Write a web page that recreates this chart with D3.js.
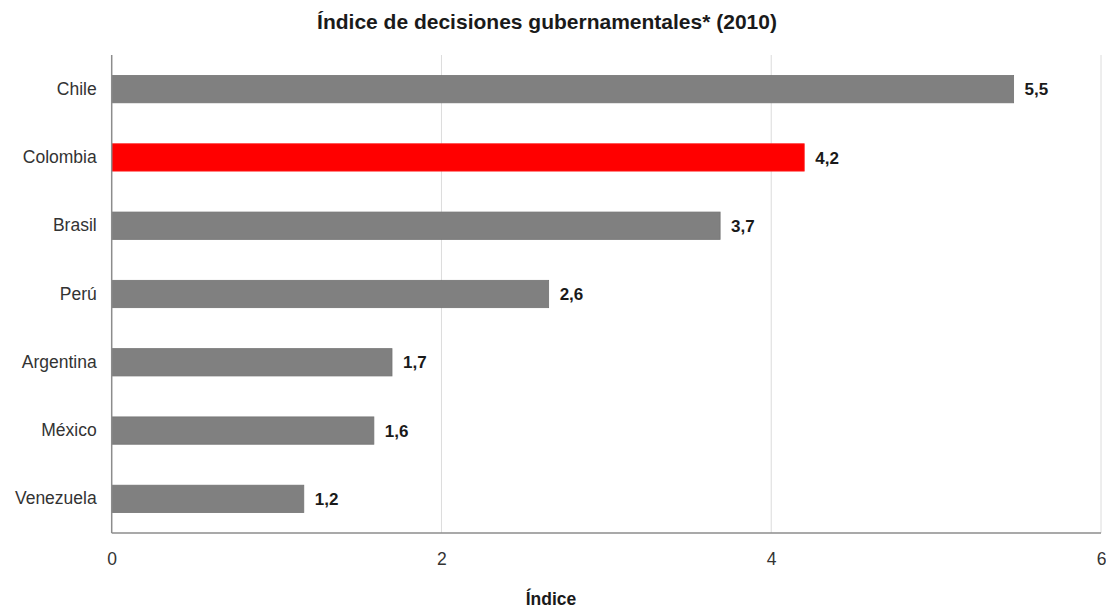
<!DOCTYPE html>
<html><head><meta charset="utf-8">
<script src="https://cdn.jsdelivr.net/npm/d3@7"></script>
<style>
body{margin:0;background:#fff;}
text{font-family:"Liberation Sans",Arial,sans-serif;}
</style></head>
<body><svg id="c" width="1106" height="610"></svg>
<script>
const categories = ["Chile","Colombia","Brasil","Perú","Argentina","México","Venezuela"];
const values = [5.47, 4.2, 3.69, 2.65, 1.7, 1.59, 1.165];
const highlight = ["Colombia"];
const xTicks = [0,2,4,6];
const title = "Índice de decisiones gubernamentales* (2010)";
const xTitle = "Índice";

const svg = d3.select("#c");
const mLeft = 111.7, mRight = 1101, mTop = 55, mBottom = 533;
const x = d3.scaleLinear().domain([0,6]).range([mLeft,mRight]);
const y = d3.scaleBand().domain(categories).range([mTop,mBottom]).paddingInner(0.6).paddingOuter(0.3);
const FF = "'Liberation Sans',Arial,sans-serif";

// gridlines
svg.append("g").selectAll("line").data(xTicks.filter(t=>t>0)).join("line")
  .attr("x1",d=>x(d)).attr("x2",d=>x(d)).attr("y1",mTop).attr("y2",mBottom)
  .attr("stroke","#dcdcdc").attr("stroke-width",1);

// bars
svg.append("g").selectAll("rect").data(categories).join("rect")
  .attr("x",x(0)).attr("y",d=>y(d))
  .attr("width",(d,i)=>x(values[i])-x(0)).attr("height",y.bandwidth())
  .attr("fill",d=>highlight.includes(d)?"#ff0000":"#808080")
  .attr("stroke",d=>highlight.includes(d)?"#ff1a1a":"#747474").attr("stroke-width",0.8);

// value labels
svg.append("g").selectAll("text").data(categories).join("text")
  .attr("x",(d,i)=>x(values[i])+11).attr("y",d=>y(d)+y.bandwidth()/2)
  .attr("dy","0.36em").attr("font-size",17).attr("font-weight","bold").attr("fill","#1a1a1a")
  .text((d,i)=>values[i].toFixed(1).replace(".",","));

// axes
const yAxis = d3.axisLeft(y).tickSize(0).tickPadding(15);
const gy = svg.append("g").attr("transform",`translate(${mLeft},0)`).call(yAxis);
gy.select(".domain").remove();
gy.selectAll("text").attr("font-size",17.5).attr("fill","#333").style("font-family",FF);

const xAxis = d3.axisBottom(x).tickValues(xTicks).tickSize(0).tickPadding(20).tickFormat(d3.format("d"));
const gx = svg.append("g").attr("transform",`translate(0,${mBottom})`).call(xAxis);
gx.select(".domain").remove();
gx.selectAll("text").attr("font-size",17.5).attr("fill","#333").style("font-family",FF);

svg.append("line").attr("x1",mLeft).attr("x2",mLeft).attr("y1",mTop).attr("y2",mBottom)
  .attr("stroke","#8c8c8c").attr("stroke-width",1.5);
svg.append("line").attr("x1",mLeft).attr("x2",mRight).attr("y1",mBottom).attr("y2",mBottom)
  .attr("stroke","#8c8c8c").attr("stroke-width",1.5);

// titles
svg.append("text").attr("x",547).attr("y",29).attr("text-anchor","middle")
  .attr("font-size",21).attr("font-weight","bold").attr("fill","#1a1a1a").text(title);
svg.append("text").attr("x",551).attr("y",605).attr("text-anchor","middle")
  .attr("font-size",17.5).attr("font-weight","bold").attr("fill","#1a1a1a").text(xTitle);
</script></body></html>
